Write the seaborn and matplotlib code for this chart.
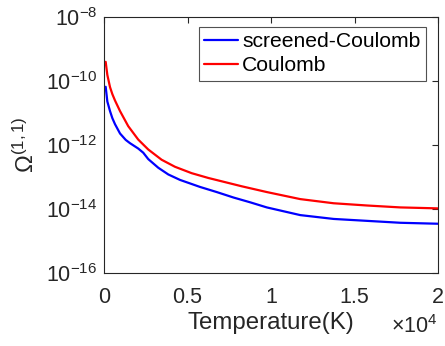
import matplotlib
matplotlib.use("Agg")
import matplotlib.pyplot as plt
import seaborn as sns
import pandas as pd
import numpy as np
from matplotlib.ticker import FixedLocator, FuncFormatter, NullLocator

# Data (log10 of Omega(1,1))
temperature_screened = [100, 200, 360, 500, 660, 960, 1300, 1550, 2050, 2350, 2650,
                        3250, 3850, 4550, 5750, 6750, 7750, 8750, 9750, 11750,
                        13750, 15750, 17750, 20000]
log_screened = [-10.19, -10.65, -10.95, -11.17, -11.36, -11.65, -11.85, -11.95,
                -12.12, -12.25, -12.45, -12.72, -12.93, -13.10, -13.32, -13.48,
                -13.65, -13.80, -13.96, -14.20, -14.32, -14.38, -14.44, -14.47]
temperature_coulomb = [100, 200, 360, 500, 660, 960, 1450, 2050, 2650, 3450, 4250,
                       5250, 6250, 7250, 8250, 9750, 11750, 13750, 15750, 17750, 20000]
log_coulomb = [-9.41, -9.82, -10.20, -10.42, -10.62, -10.95, -11.42, -11.84,
               -12.15, -12.47, -12.69, -12.89, -13.04, -13.17, -13.30, -13.48,
               -13.70, -13.83, -13.90, -13.96, -13.99]
series_names = ["screened-Coulomb", "Coulomb"]
series_colors = ["#0000ff", "#ff0000"]
x_ticks = [0, 5000, 10000, 15000, 20000]
x_tick_labels = ["0", "0.5", "1", "1.5", "2"]
y_ticks = [1e-16, 1e-14, 1e-12, 1e-10, 1e-8]

df = pd.DataFrame({
    "T": temperature_screened + temperature_coulomb,
    "Omega": [10 ** v for v in log_screened] + [10 ** v for v in log_coulomb],
    "model": [series_names[0]] * len(temperature_screened)
             + [series_names[1]] * len(temperature_coulomb),
})

sns.set_theme(style="white")
plt.rcParams["font.family"] = ["Liberation Sans", "DejaVu Sans"]
plt.rcParams["mathtext.fontset"] = "custom"
plt.rcParams["mathtext.rm"] = "Liberation Sans"
plt.rcParams["mathtext.it"] = "Liberation Sans:italic"
plt.rcParams["mathtext.bf"] = "Liberation Sans:bold"

fs_tick = 15.5
fs_label = 17.3
fs_leg = 15.2
tc = "#262626"

fig = plt.figure(figsize=(4.45, 3.46), dpi=100)
ax = fig.add_axes([104 / 445, 1 - 272.7 / 346, 334 / 445, 256 / 346])

sns.lineplot(data=df, x="T", y="Omega", hue="model", palette=series_colors,
             hue_order=series_names, linewidth=1.6, ax=ax, legend=True,
             estimator=None, sort=False)

ax.set_yscale("log")
ax.set_xlim(0, 20000)
ax.set_ylim(1e-16, 1e-8)
ax.yaxis.set_major_locator(FixedLocator(y_ticks))
ax.yaxis.set_minor_locator(NullLocator())
ax.yaxis.set_major_formatter(FuncFormatter(lambda v, p: r"$10^{%d}$" % int(round(np.log10(v)))))
ax.set_xticks(x_ticks)
ax.set_xticklabels(x_tick_labels)

for s in ax.spines.values():
    s.set_visible(True)
    s.set_color(tc)
    s.set_linewidth(0.8)

ax.tick_params(axis="both", which="both", direction="in", top=True, right=True,
               length=4, width=0.8, color=tc, labelcolor=tc, labelsize=fs_tick)
ax.tick_params(axis="x", pad=10)
ax.tick_params(axis="y", pad=5)

ax.set_xlabel("Temperature(K)", fontsize=fs_label, color=tc, labelpad=3)
ax.set_ylabel(r"$\Omega^{(1,1)}$", fontsize=fs_label, color=tc, labelpad=5)

ax.text(1.0, -0.235, r"$\times10^{4}$", transform=ax.transAxes, ha="right",
        va="baseline", fontsize=fs_tick, color=tc)

leg = ax.legend(loc="upper right", fontsize=fs_leg, frameon=True, fancybox=False,
                edgecolor=tc, handlelength=1.6, handletextpad=0.2,
                borderpad=0.25, labelspacing=0.24, borderaxespad=0.0,
                handleheight=0.7, bbox_to_anchor=(0.964, 0.96))
leg.get_frame().set_linewidth(0.8)
leg.set_title(None)
for t in leg.get_texts():
    t.set_color("black")

fig.savefig("out.png", dpi=100)
